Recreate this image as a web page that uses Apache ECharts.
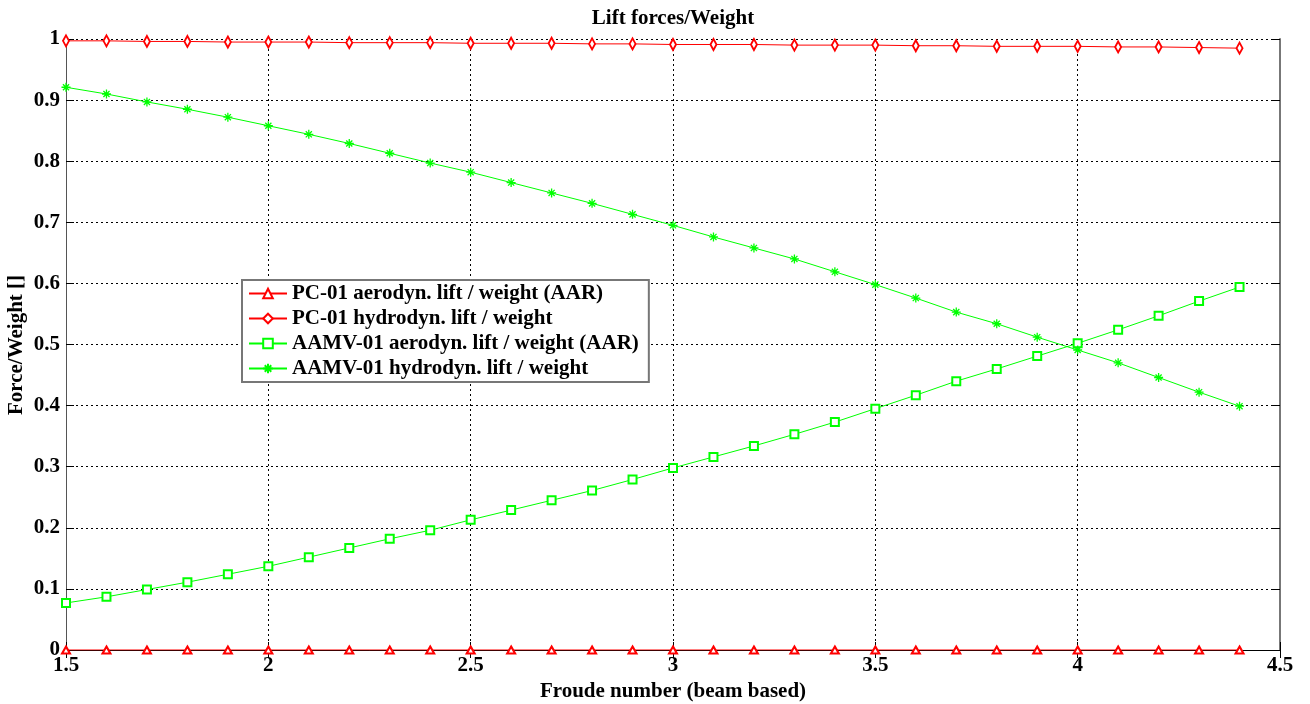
<!DOCTYPE html>
<html>
<head>
<meta charset="utf-8">
<title>Lift forces/Weight</title>
<script src="https://cdn.jsdelivr.net/npm/echarts@6/dist/echarts.min.js"></script>
<style>
  html, body { margin: 0; padding: 0; background: #fff; }
  #chart { width: 1310px; height: 704px; }
</style>
</head>
<body>
<div id="chart"></div>
<script>
// Froude number (beam based) sample points
const froude = [1.5, 1.6, 1.7, 1.8, 1.9, 2.0, 2.1, 2.2, 2.3, 2.4,
                2.5, 2.6, 2.7, 2.8, 2.9, 3.0, 3.1, 3.2, 3.3, 3.4,
                3.5, 3.6, 3.7, 3.8, 3.9, 4.0, 4.1, 4.2, 4.3, 4.4];

// Lift / weight ratios
const pcAero = [0, 0, 0, 0, 0, 0, 0, 0, 0, 0,
                0, 0, 0, 0, 0, 0, 0, 0, 0, 0,
                0, 0, 0, 0, 0, 0, 0, 0, 0, 0];
const pcHydro = [0.997, 0.997, 0.996, 0.996, 0.995, 0.995, 0.995, 0.994, 0.994, 0.994,
                 0.993, 0.993, 0.993, 0.992, 0.992, 0.991, 0.991, 0.991, 0.990, 0.990,
                 0.990, 0.989, 0.989, 0.988, 0.988, 0.988, 0.987, 0.987, 0.986, 0.985];
const aamvAero = [0.077, 0.087, 0.099, 0.111, 0.124, 0.137, 0.152, 0.167, 0.182, 0.196,
                  0.213, 0.229, 0.245, 0.261, 0.279, 0.298, 0.316, 0.334, 0.353, 0.373,
                  0.395, 0.417, 0.440, 0.460, 0.481, 0.502, 0.524, 0.547, 0.571, 0.594];
const aamvHydro = [0.921, 0.910, 0.897, 0.885, 0.872, 0.858, 0.844, 0.829, 0.813, 0.797,
                   0.782, 0.765, 0.748, 0.731, 0.713, 0.695, 0.676, 0.658, 0.640, 0.619,
                   0.598, 0.576, 0.553, 0.534, 0.512, 0.491, 0.470, 0.446, 0.422, 0.399];

const seriesNames = [
  'PC-01 aerodyn. lift / weight (AAR)',
  'PC-01 hydrodyn. lift / weight',
  'AAMV-01 aerodyn. lift / weight (AAR)',
  'AAMV-01 hydrodyn. lift / weight'
];

const xTicks = { min: 1.5, max: 4.5, step: 0.5 };
const yTicks = { min: 0, max: 1, step: 0.1 };

const FONT = '"Liberation Serif", "DejaVu Serif", serif';
const RED = '#ff0000';
const GREEN = '#00ff00';
const ASTERISK = 'path://M5,0L5,10M0,5L10,5M1.6,1.6L8.4,8.4M1.6,8.4L8.4,1.6';

function pairs(ys) {
  return froude.map((x, i) => [x, ys[i]]);
}

function fmt(v) {
  return String(Math.round(v * 10) / 10);
}

const labelStyle = { fontFamily: FONT, fontWeight: 'bold', fontSize: 21, color: '#000' };

const chart = echarts.init(document.getElementById('chart'), null, { renderer: 'canvas' });

chart.setOption({
  animation: false,
  backgroundColor: '#fff',
  title: {
    text: 'Lift forces/Weight',
    left: 668,
    top: 3,
    textAlign: 'center',
    textStyle: { fontFamily: FONT, fontWeight: 'bold', fontSize: 21, color: '#000' }
  },
  grid: { left: 66, right: 30, top: 39, bottom: 54, containLabel: false, outerBoundsMode: 'none' },
  legend: {
    orient: 'vertical',
    left: 242,
    top: 280,
    padding: [3, 10, 3, 6],
    itemGap: 4,
    itemWidth: 38,
    itemHeight: 12,
    backgroundColor: '#fff',
    borderColor: '#777',
    borderWidth: 2,
    borderRadius: 0,
    textStyle: { fontFamily: FONT, fontWeight: 'bold', fontSize: 21, color: '#000', lineHeight: 18 },
    data: seriesNames
  },
  xAxis: [{
    type: 'value',
    min: xTicks.min, max: xTicks.max, interval: xTicks.step,
    axisLine: { show: true, onZero: false, lineStyle: { color: '#000', width: 1 } },
    axisTick: { show: true, inside: true, length: 8, lineStyle: { color: '#000' } },
    axisLabel: Object.assign({ margin: 5, formatter: fmt }, labelStyle),
    splitLine: { show: true, lineStyle: { color: '#000', type: [2, 3], width: 1 } },
    name: 'Froude number (beam based)',
    nameLocation: 'middle',
    nameGap: 28,
    nameTextStyle: { fontFamily: FONT, fontWeight: 'bold', fontSize: 21, color: '#000' }
  }, {
    type: 'value', position: 'top',
    min: xTicks.min, max: xTicks.max, interval: xTicks.step,
    axisLine: { show: true, lineStyle: { color: '#000', width: 1 } },
    axisTick: { show: true, inside: true, length: 8, lineStyle: { color: '#000' } },
    axisLabel: { show: false },
    splitLine: { show: false }
  }],
  yAxis: [{
    type: 'value',
    min: yTicks.min, max: yTicks.max, interval: yTicks.step,
    axisLine: { show: true, onZero: false, lineStyle: { color: '#555', width: 1 } },
    axisTick: { show: true, inside: true, length: 8, lineStyle: { color: '#000' } },
    axisLabel: Object.assign({ margin: 6, formatter: fmt }, labelStyle),
    splitLine: { show: true, lineStyle: { color: '#000', type: [2, 3], width: 1 } }
  }, {
    type: 'value', position: 'right',
    min: yTicks.min, max: yTicks.max, interval: yTicks.step,
    axisLine: { show: true, lineStyle: { color: '#777', width: 2 } },
    axisTick: { show: true, inside: true, length: 8, lineStyle: { color: '#000' } },
    axisLabel: { show: false },
    splitLine: { show: false }
  }],
  graphic: [{
    // vertical y-axis title, centred on the plot height
    type: 'text',
    x: 17,
    y: 345,
    rotation: Math.PI / 2,
    style: {
      text: 'Force/Weight []',
      font: 'bold 21px ' + FONT,
      fill: '#000',
      align: 'center',
      verticalAlign: 'middle'
    }
  }],
  series: [{
    name: seriesNames[0],
    type: 'line',
    data: pairs(pcAero),
    symbol: 'emptyTriangle',
    symbolSize: [8, 7],
    lineStyle: { color: RED, width: 1 },
    itemStyle: { color: RED, borderColor: RED, borderWidth: 1 },
    z: 3
  }, {
    name: seriesNames[1],
    type: 'line',
    data: pairs(pcHydro),
    symbol: 'emptyDiamond',
    symbolSize: [6, 11],
    lineStyle: { color: RED, width: 1 },
    itemStyle: { color: RED, borderColor: RED, borderWidth: 1 },
    z: 3
  }, {
    name: seriesNames[2],
    type: 'line',
    data: pairs(aamvAero),
    symbol: 'emptyRect',
    symbolSize: 8,
    lineStyle: { color: GREEN, width: 1 },
    itemStyle: { color: GREEN, borderColor: GREEN, borderWidth: 1 },
    z: 3
  }, {
    name: seriesNames[3],
    type: 'line',
    data: pairs(aamvHydro),
    symbol: ASTERISK,
    symbolSize: 9,
    lineStyle: { color: GREEN, width: 1 },
    itemStyle: { color: GREEN, borderColor: GREEN, borderWidth: 1.3 },
    z: 3
  }]
});
</script>
</body>
</html>
